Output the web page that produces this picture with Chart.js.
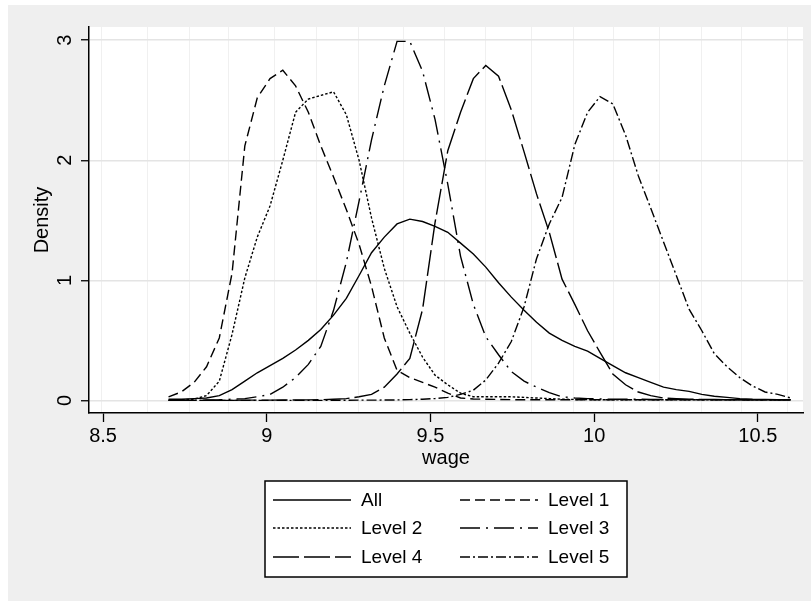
<!DOCTYPE html>
<html>
<head>
<meta charset="utf-8">
<script src="https://cdn.jsdelivr.net/npm/chart.js@4.4.1/dist/chart.umd.min.js"></script>
<style>
  html, body { margin: 0; padding: 0; background: #fff; }
  #wrap { width: 811px; height: 602px; }
</style>
</head>
<body>
<div id="wrap"><canvas id="kdens"></canvas></div>
<script>
// evaluation grid of the kernel densities
const wage = [8.700, 8.739, 8.778, 8.816, 8.855, 8.894, 8.933, 8.971, 9.010, 9.049,
  9.088, 9.127, 9.165, 9.204, 9.243, 9.282, 9.320, 9.359, 9.398, 9.437,
  9.476, 9.514, 9.553, 9.592, 9.631, 9.669, 9.708, 9.747, 9.786, 9.824,
  9.863, 9.902, 9.941, 9.980, 10.018, 10.057, 10.096, 10.135, 10.173, 10.212,
  10.251, 10.290, 10.329, 10.367, 10.406, 10.445, 10.484, 10.522, 10.561, 10.600];

const densAll = [0.01, 0.01, 0.015, 0.02, 0.04, 0.09, 0.16, 0.23, 0.29, 0.35,
  0.42, 0.50, 0.59, 0.71, 0.85, 1.04, 1.23, 1.36, 1.47, 1.51,
  1.49, 1.45, 1.40, 1.31, 1.22, 1.11, 0.98, 0.86, 0.75, 0.65,
  0.56, 0.50, 0.45, 0.41, 0.35, 0.29, 0.23, 0.19, 0.15, 0.11,
  0.09, 0.075, 0.05, 0.035, 0.025, 0.015, 0.01, 0.008, 0.005, 0.005];

const densL1 = [0.03, 0.07, 0.15, 0.28, 0.52, 1.06, 2.12, 2.52, 2.68, 2.75,
  2.62, 2.40, 2.12, 1.86, 1.59, 1.30, 0.95, 0.52, 0.25, 0.19,
  0.15, 0.11, 0.06, 0.02, 0.012, 0.01, 0.008, 0.006, 0.005, 0.005,
  0.005, 0.005, 0.005, 0.005, 0.005, 0.005, 0.005, 0.005, 0.005, 0.005,
  0.005, 0.005, 0.005, 0.005, 0.005, 0.005, 0.005, 0.005, 0.005, 0.005];

const densL2 = [0.0, 0.005, 0.01, 0.04, 0.16, 0.55, 1.02, 1.36, 1.62, 2.00,
  2.40, 2.51, 2.54, 2.57, 2.38, 2.00, 1.52, 1.10, 0.78, 0.56,
  0.36, 0.21, 0.13, 0.06, 0.03, 0.03, 0.03, 0.03, 0.025, 0.02,
  0.015, 0.01, 0.008, 0.006, 0.005, 0.005, 0.005, 0.005, 0.005, 0.005,
  0.005, 0.005, 0.005, 0.005, 0.005, 0.005, 0.005, 0.005, 0.005, 0.005];

const densL3 = [0.0, 0.0, 0.0, 0.003, 0.005, 0.01, 0.015, 0.03, 0.05, 0.11,
  0.19, 0.30, 0.45, 0.75, 1.15, 1.66, 2.17, 2.62, 2.99, 2.99,
  2.74, 2.34, 1.80, 1.20, 0.80, 0.53, 0.38, 0.24, 0.16, 0.11,
  0.065, 0.03, 0.02, 0.015, 0.012, 0.01, 0.01, 0.01, 0.008, 0.008,
  0.008, 0.006, 0.006, 0.006, 0.005, 0.005, 0.005, 0.005, 0.005, 0.005];

const densL4 = [0.0, 0.0, 0.0, 0.0, 0.0, 0.0, 0.002, 0.002, 0.002, 0.003,
  0.003, 0.004, 0.005, 0.01, 0.015, 0.03, 0.05, 0.11, 0.22, 0.35,
  0.76, 1.48, 2.08, 2.40, 2.68, 2.79, 2.70, 2.42, 2.07, 1.72,
  1.40, 1.01, 0.80, 0.58, 0.40, 0.22, 0.13, 0.07, 0.04, 0.02,
  0.015, 0.01, 0.008, 0.007, 0.006, 0.005, 0.005, 0.005, 0.005, 0.005];

const densL5 = [0.0, 0.0, 0.0, 0.0, 0.0, 0.0, 0.0, 0.0, 0.0, 0.0,
  0.0, 0.0, 0.0, 0.001, 0.001, 0.002, 0.002, 0.003, 0.004, 0.006,
  0.01, 0.015, 0.025, 0.05, 0.085, 0.17, 0.31, 0.49, 0.78, 1.18,
  1.47, 1.69, 2.13, 2.40, 2.53, 2.47, 2.21, 1.87, 1.60, 1.32,
  1.04, 0.76, 0.58, 0.39, 0.28, 0.19, 0.12, 0.07, 0.05, 0.02];

const seriesNames = ['All', 'Level 1', 'Level 2', 'Level 3', 'Level 4', 'Level 5'];
const xTicks = [8.5, 9, 9.5, 10, 10.5];
const yTicks = [0, 1, 2, 3];
// faint vertical rules visible in the plot region
const gridX = [8.494, 8.635, 8.763, 8.884, 9.025, 9.153, 9.280, 9.417, 9.543,
  9.668, 9.809, 9.938, 10.060, 10.200, 10.329, 10.451, 10.592];

const series = [densAll, densL1, densL2, densL3, densL4, densL5];
const dashes = [[], [10, 5], [2.5, 2], [20, 6, 2, 6], [26, 5], [10, 3, 2, 3]];

const fontFamily = "'Liberation Sans', Arial, Helvetica, sans-serif";
Chart.defaults.font.family = fontFamily;
Chart.defaults.color = '#000';

function pairs(ys) {
  return wage.map((w, i) => ({ x: w, y: ys[i] }));
}

const datasets = series.map((ys, i) => ({
  label: seriesNames[i],
  data: pairs(ys),
  borderColor: '#000',
  borderWidth: 1.4,
  borderDash: dashes[i],
  pointRadius: 0,
  tension: 0,
  fill: false,
  xAxisID: 'x',
  yAxisID: 'y'
}));

// gray graph region with a white plot region
const backdrop = {
  id: 'backdrop',
  beforeDraw(chart) {
    const { ctx, width, height, chartArea: a } = chart;
    ctx.save();
    ctx.fillStyle = '#fff';
    ctx.fillRect(0, 0, width, height);
    ctx.fillStyle = '#efefef';
    ctx.fillRect(8, 5, width - 8, height - 6);
    ctx.fillStyle = '#fff';
    ctx.fillRect(a.left, a.top, a.right - a.left, a.bottom - a.top);
    ctx.restore();
  }
};

// boxed two-column legend under the x title
const boxLegend = {
  id: 'boxLegend',
  afterDraw(chart) {
    const { ctx, chartArea: a } = chart;
    const w = 362, h = 96;
    const left = Math.round((a.left + a.right) / 2 - w / 2);
    const top = Math.round(a.bottom + 68);
    ctx.save();
    ctx.fillStyle = '#fff';
    ctx.fillRect(left, top, w, h);
    ctx.strokeStyle = '#000';
    ctx.lineWidth = 1.5;
    ctx.strokeRect(left, top, w, h);
    ctx.font = '19px ' + fontFamily;
    ctx.textBaseline = 'middle';
    ctx.fillStyle = '#000';
    const colX = [8, 195];
    const rowY = [19, 47, 76];
    chart.data.datasets.forEach((ds, i) => {
      const cx = left + colX[i % 2];
      const cy = top + rowY[Math.floor(i / 2)];
      ctx.beginPath();
      ctx.setLineDash(ds.borderDash);
      ctx.lineWidth = 1.4;
      ctx.moveTo(cx, cy);
      ctx.lineTo(cx + 78, cy);
      ctx.stroke();
      ctx.setLineDash([]);
      ctx.fillText(ds.label, cx + 88, cy + 1);
    });
    ctx.restore();
  }
};

new Chart(document.getElementById('kdens'), {
  type: 'line',
  data: { datasets: datasets },
  options: {
    responsive: true,
    maintainAspectRatio: false,
    animation: false,
    layout: { padding: { left: 8, top: 27, right: 8, bottom: 129 } },
    plugins: {
      legend: { display: false },
      tooltip: { enabled: false }
    },
    scales: {
      x: {
        type: 'linear',
        position: 'bottom',
        min: 8.457,
        max: 10.638,
        afterBuildTicks: s => { s.ticks = xTicks.map(v => ({ value: v })); },
        afterFit: s => { s.height = 60; },
        ticks: {
          font: { size: 20 },
          padding: 2,
          maxRotation: 0,
          callback: v => String(v)
        },
        grid: {
          drawOnChartArea: false,
          drawTicks: true,
          tickLength: 9,
          tickColor: '#000',
          tickWidth: 1.3
        },
        border: { display: true, color: '#000', width: 1.5 },
        title: {
          display: true,
          text: 'wage',
          font: { size: 20 },
          padding: { top: 0, bottom: 3 }
        }
      },
      xg: {
        type: 'linear',
        position: 'top',
        min: 8.457,
        max: 10.638,
        afterBuildTicks: s => { s.ticks = gridX.map(v => ({ value: v })); },
        afterFit: s => { s.height = 0; },
        ticks: { display: false },
        grid: { color: '#f0f0f0', lineWidth: 1, drawTicks: false },
        border: { display: false }
      },
      y: {
        type: 'linear',
        position: 'left',
        min: -0.105,
        max: 3.11,
        afterBuildTicks: s => { s.ticks = yTicks.map(v => ({ value: v })); },
        afterFit: s => { s.width = 81; },
        ticks: {
          font: { size: 20 },
          minRotation: 90,
          maxRotation: 90,
          crossAlign: 'center',
          padding: 10,
          callback: v => String(v)
        },
        grid: {
          color: '#e4e4e4',
          lineWidth: 1.5,
          drawTicks: true,
          tickLength: 8,
          tickColor: '#000',
          tickWidth: 1.3
        },
        border: { display: true, color: '#000', width: 1.5 },
        title: {
          display: true,
          text: 'Density',
          font: { size: 20 },
          padding: { top: 22, bottom: 0 }
        }
      }
    }
  },
  plugins: [backdrop, boxLegend]
});
</script>
</body>
</html>
